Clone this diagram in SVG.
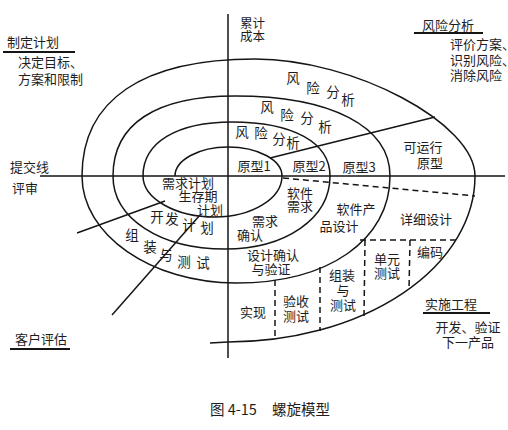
<svg xmlns="http://www.w3.org/2000/svg" width="508" height="430" viewBox="0 0 508 430">
<style>
.ln{stroke:#151515;stroke-width:1.5;fill:none}
.ul{stroke:#151515;stroke-width:2;fill:none}
.ds{stroke:#151515;stroke-width:1.5;fill:none;stroke-dasharray:6 4}
text{font-family:"Noto Sans CJK SC","Noto Sans",sans-serif;fill:#1e1e1e}
.t{font-size:13px}
.c{font-size:13px;text-anchor:middle}
.s{font-size:13.5px;text-anchor:middle}
.cap{font-size:14.5px}
</style>
<rect width="508" height="430" fill="#fff"/>
<g id="connectors">
<line class="ln" x1="228" y1="14" x2="228" y2="358"/>
<line class="ln" x1="40" y1="176" x2="505" y2="176"/>
<path id="spiral" class="ln" d="M175,176 C175,160 199,147 228,147 C258,147 282,160 282,176
C282,198.6 252,217 215,217 C175.4,217 143,198.6 143,176
C143,142.5 176.8,122 232,122 C292.8,122 330,142.5 330,176
C330,218.3 285.9,249 225,249 C160,249 113,218.3 113,176
C113,124 155.7,96 235,96 C331,96 390,126.4 390,176
C390,240 328.4,283 236,283 C151.3,283 82,234.9 82,176
C82,100 142.5,59 255,59 C354,59 475,123.3 475,176
A247,166 0 0 1 228,342 L210,343"/>
<line class="ln" x1="270" y1="158" x2="435" y2="117"/>
<line class="ln" x1="77" y1="233" x2="165" y2="201"/>
<line class="ln" x1="112" y1="315" x2="200" y2="215"/>
<line class="ds" x1="283" y1="178" x2="475" y2="196"/>
<line class="ds" x1="360" y1="240" x2="458" y2="240"/>
<line class="ds" x1="365" y1="240" x2="364" y2="316"/>
<line class="ds" x1="410" y1="240" x2="409" y2="290"/>
<line class="ds" x1="275" y1="280" x2="275" y2="338"/>
<line class="ds" x1="320" y1="267" x2="320" y2="331"/>
<line class="ul" x1="3" y1="52" x2="75" y2="52"/>
<line class="ul" x1="414" y1="33" x2="483" y2="33"/>
<line class="ul" x1="10" y1="349" x2="70" y2="349"/>
<line class="ul" x1="423" y1="313" x2="490" y2="313"/>
</g>
<g id="plan">
<text class="t" x="7" y="47">制定计划</text>
<text class="t" x="18" y="67">决定目标、</text>
<text class="t" x="18" y="84">方案和限制</text>
</g>
<g id="cost">
<text class="t" x="240" y="28" style="font-size:12.5px">累计</text>
<text class="t" x="240" y="41" style="font-size:12.5px">成本</text>
</g>
<g id="risk">
<text class="t" x="422" y="30">风险分析</text>
<text class="t" x="450" y="49">评价方案、</text>
<text class="t" x="450" y="65">识别风险、</text>
<text class="t" x="450" y="80">消除风险</text>
</g>
<g id="commit">
<text class="t" x="10" y="172">提交线</text>
<text class="t" x="12" y="193">评审</text>
</g>
<g id="customer">
<text class="t" x="15" y="344">客户评估</text>
</g>
<g id="engineering">
<text class="t" x="425" y="309">实施工程</text>
<text class="c" x="468" y="332">开发、验证</text>
<text class="c" x="468" y="347">下一产品</text>
</g>
<g id="risk-1">
<text class="s" x="293" y="83">风</text><text class="s" x="313" y="93">险</text><text class="s" x="333" y="97">分</text><text class="s" x="348" y="105">析</text>
</g>
<g id="risk-2">
<text class="s" x="267" y="112">风</text><text class="s" x="287" y="120">险</text><text class="s" x="307" y="123">分</text><text class="s" x="325" y="132">析</text>
</g>
<g id="risk-3">
<text class="s" x="242" y="137">风</text><text class="s" x="261" y="138">险</text><text class="s" x="279" y="144">分</text><text class="s" x="293" y="148">析</text>
</g>
<g id="proto1"><text class="c" x="254" y="171">原型1</text></g>
<g id="proto2"><text class="c" x="309" y="171">原型2</text></g>
<g id="proto3"><text class="c" x="359" y="172">原型3</text></g>
<g id="proto-op"><text class="c" x="423" y="152">可运行</text><text class="c" x="430" y="168">原型</text></g>
<g id="req-plan">
<text class="c" x="188" y="188">需求计划</text>
<text class="c" x="198" y="201">生存期</text>
<text class="c" x="210" y="215">计划</text>
</g>
<g id="dev-plan">
<text class="s" x="157" y="222">开</text><text class="s" x="172" y="224">发</text><text class="s" x="189" y="230">计</text><text class="s" x="207" y="233">划</text>
</g>
<g id="integ-plan">
<text class="s" x="132" y="240">组</text><text class="s" x="150" y="252">装</text><text class="s" x="166" y="260">与</text><text class="s" x="184" y="267">测</text><text class="s" x="203" y="268">试</text>
</g>
<g id="req-valid"><text class="c" x="265" y="226">需求</text><text class="c" x="250" y="240">确认</text></g>
<g id="sw-req"><text class="c" x="300" y="198">软件</text><text class="c" x="300" y="211">需求</text></g>
<g id="sw-design"><text class="c" x="356" y="214">软件产</text><text class="c" x="339" y="231">品设计</text></g>
<g id="design-valid"><text class="c" x="273" y="260">设计确认</text><text class="c" x="271" y="274">与验证</text></g>
<g id="detail-design"><text class="c" x="426" y="224">详细设计</text></g>
<g id="coding"><text class="c" x="430" y="257">编码</text></g>
<g id="unit-test"><text class="c" x="387" y="264">单元</text><text class="c" x="387" y="278">测试</text></g>
<g id="integ-test"><text class="c" x="342" y="280">组装</text><text class="c" x="343" y="295">与</text><text class="c" x="343" y="310">测试</text></g>
<g id="accept-test"><text class="c" x="296" y="306">验收</text><text class="c" x="296" y="321">测试</text></g>
<g id="impl"><text class="c" x="253" y="317">实现</text></g>
<g id="caption">
<text class="cap" x="210" y="415">图 4-15</text>
<text class="cap" x="272" y="415">螺旋模型</text>
</g>
</svg>
